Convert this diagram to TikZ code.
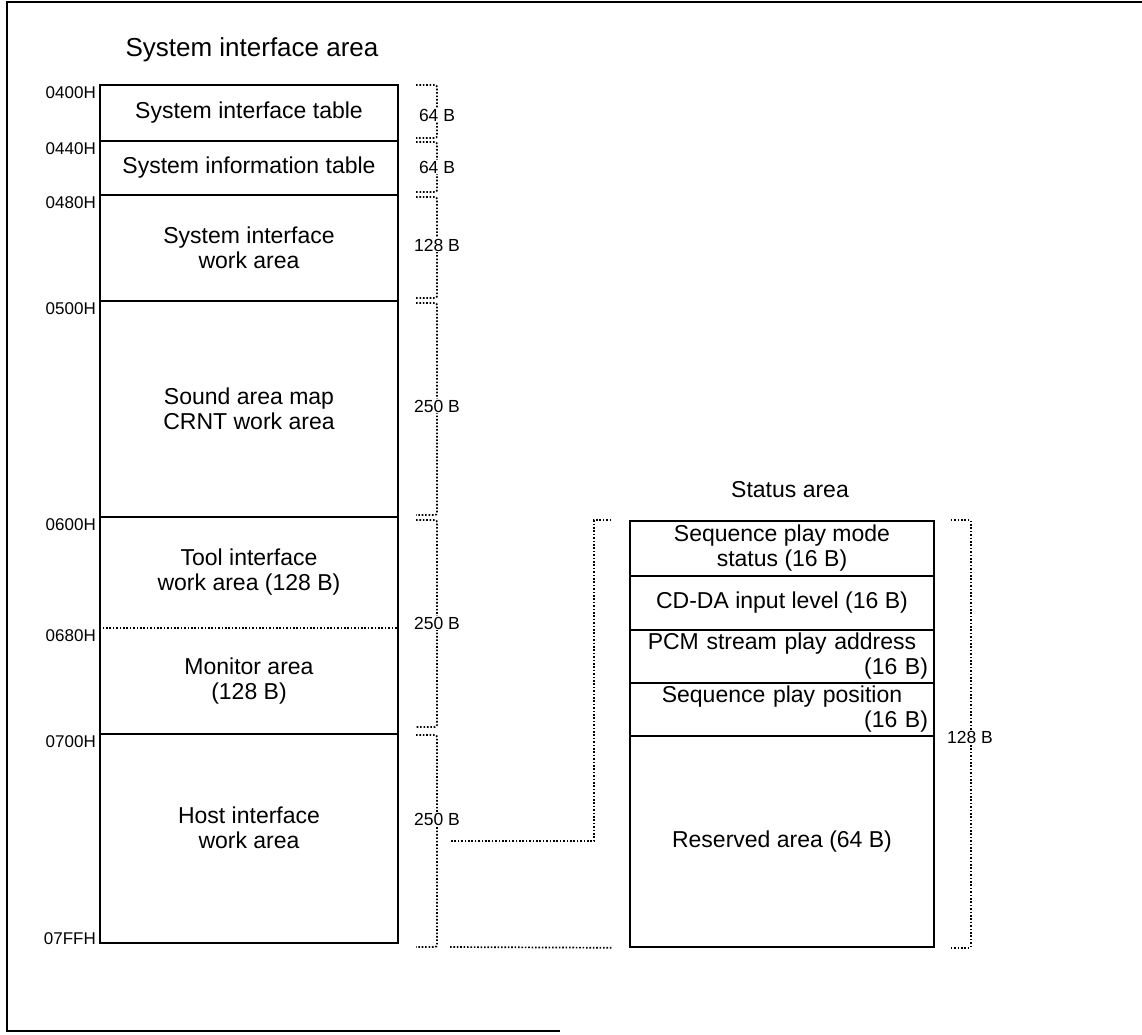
\documentclass[tikz,border=0pt]{standalone}
\usepackage{fontspec}
\setmainfont{Liberation Sans}
\usetikzlibrary{positioning}

\begin{document}
\begin{tikzpicture}[x=1pt, y=-1pt,
    cell/.style={draw, line width=1.5pt, minimum width=298pt, inner sep=0pt, align=center, font=\fontsize{23}{25}\selectfont},
    scell/.style={cell, minimum width=304pt},
    txt/.style={inner sep=0pt, align=center, font=\fontsize{23}{25}\selectfont},
    addr/.style={anchor=north east, inner sep=0pt, font=\fontsize{17}{20}\selectfont},
    size/.style={fill=white, inner sep=1pt, font=\fontsize{17.5}{20}\selectfont},
    dotline/.style={line width=1.7pt, dash pattern=on 1.6pt off 1.8pt},
    ttl/.style={font=\fontsize{24}{28}\selectfont}]
    \useasboundingbox (0,0) rectangle (1142,1034);

    % 外框
    \draw[line width=1.5pt] (560,1031) -- (7,1031) -- (7,2) -- (1142,2);

    % 标题
    \node[ttl, font=\fontsize{26}{30}\selectfont] (titleL) at (252,50) {System interface area};
    \node[ttl, font=\fontsize{23}{28}\selectfont] (titleR) at (790,490) {Status area};

    % 系统接口区
    \node[cell, minimum height=56pt] (sit) at (249,113) {System interface table};
    \node[cell, minimum height=54pt] (sinf) at (249,168) {System information table};
    \node[cell, minimum height=106pt] (siw) at (249,248) {System interface\\work area};
    \node[cell, minimum height=216pt] (sam) at (249,409) {Sound area map\\CRNT work area};
    \node[cell, minimum height=217pt] (tm) at (249,625.5) {};
    \node[txt] (tool) at (249,572) {Tool interface\\work area (128 B)};
    \node[txt] (mon) at (249,681) {Monitor area\\(128 B)};
    \draw[dotline] (tm.west |- 0,628) -- (tm.east |- 0,628);
    \node[cell, minimum height=209pt] (host) at (249,838.5) {};
    \node[txt] (hostt) at ([yshift=11pt]host.center) {Host interface\\work area};

    % 地址
    \foreach \a/\y in {0400H/85, 0440H/141, 0480H/195, 0500H/301, 0600H/517, 0680H/628, 0700H/734}
        \node[addr] (a\a) at (96,\y+1) {\a};
    \node[addr, anchor=south east] (a07FFH) at (96,945) {07FFH};

    % 大小括号
    \foreach \t/\b/\m/\s [count=\i] in {85/138/115/64 B, 142/192/167/64 B, 197/298/245/128 B,
                                      303/515/406/250 B, 520/727/623/250 B, 735/947/819/250 B} {
        \draw[dotline, rounded corners=2pt] (416,\t) -- (437,\t) -- (437,\b) -- (416,\b);
        \node[size] (s\i) at (437,\m) {\s};
    }

    % 状态区
    \node[scell, minimum height=55pt] (mode) at (782,548.5) {Sequence play mode\\status (16 B)};
    \node[scell, minimum height=54pt] (cdda) at (782,603) {CD-DA input level (16 B)};
    \node[scell, minimum height=53pt, text width=292pt] (pcm) at (782,656.5) {PCM stream play address\\\hfill(16 B)};
    \node[scell, minimum height=53pt, text width=292pt] (pos) at (782,709.5) {Sequence play position\\\hfill(16 B)};
    \node[scell, minimum height=211pt] (res) at (782,841.5) {Reserved area (64 B)};

    \draw[dotline] ([xshift=16pt]mode.north east) -- ([xshift=36pt]mode.north east)
        -- ([xshift=36pt]res.south east) -- ([xshift=16pt]res.south east);
    \node[size] (s7) at (970,737) {128 B};

    % 连接虚线
    \coordinate (c1) at (450,841);
    \coordinate (c2) at (450,947);
    \draw[dotline] ([xshift=-18pt]mode.north west) -- ([xshift=-35pt]mode.north west)
        -- ([xshift=-35pt]mode.north west |- c1) -- (c1);
    \draw[dotline] (c2) -- ([xshift=-18pt]res.south west);
\end{tikzpicture}
\end{document}
